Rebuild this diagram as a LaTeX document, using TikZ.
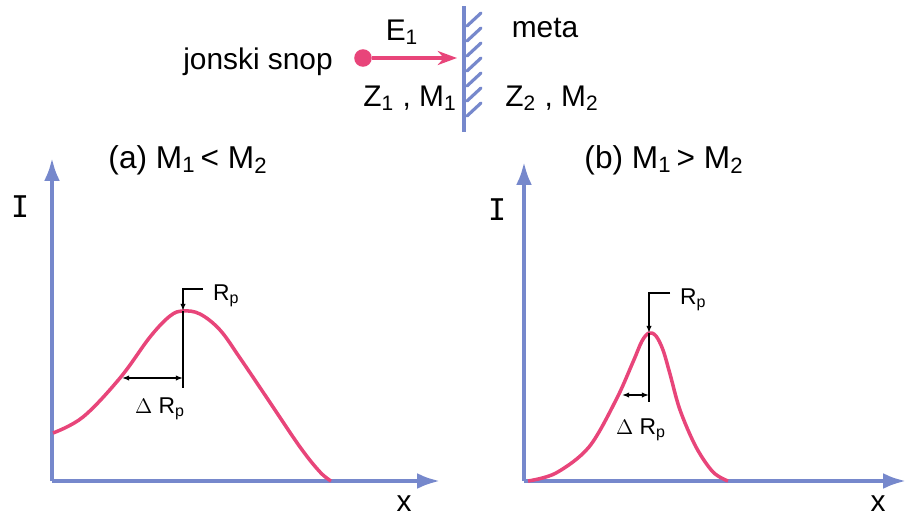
\documentclass[tikz,border=0pt]{standalone}
\usepackage{fontspec}
\setmainfont{Liberation Sans}
\newfontfamily\barfont{DejaVu Sans Mono}
\usepackage{tikz}
\usetikzlibrary{arrows.meta, positioning, calc}
\usepackage{xcolor}
\definecolor{axisBlue}{HTML}{7688CC}
\definecolor{beamPink}{HTML}{E8457A}

\begin{document}
\begin{tikzpicture}[
      x=0.02cm, y=-0.02cm,
      font=\fontsize{17}{19}\selectfont,
      axis/.style={draw=axisBlue, line width=2.2pt, -{Latex[length=13pt, width=9pt]}},
      curve/.style={draw=beamPink, line width=2pt, line join=round},
      mark line/.style={draw=black, line width=0.9pt},
      small lbl/.style={font=\fontsize{13}{15}\selectfont, inner sep=1pt},
      title lbl/.style={font=\fontsize{18}{20}\selectfont}
    ]
    \useasboundingbox (0,0) rectangle (906,518);

    % beam hitting the target
    \coordinate (wtop) at (464,6);
    \coordinate (wbot) at (464,132);
    \draw[axisBlue, line width=2.4pt] (wtop) -- (wbot);
    \foreach \y in {26,41,56,71,86,101,116}
      \draw[axisBlue, line width=1.8pt, line cap=round] (467,\y) -- (481,\y-13);
    \node[circle, fill=beamPink, inner sep=0pt, minimum size=10pt] (src) at (363,58) {};
    \coordinate (hit) at (457,58);
    \draw[beamPink, line width=2.2pt, -{Stealth[length=11pt, width=8pt]}] (src) -- (hit);
    \node (beam) at (258,62) {jonski snop};
    \node (energy) at (402,32) {E\textsubscript{1}};
    \node (z1m1) at (410,98) {Z\textsubscript{1} , M\textsubscript{1}};
    \node (meta) at (545,28) {meta};
    \node (z2m2) at (552,98) {Z\textsubscript{2} , M\textsubscript{2}};

    % (a) M1 < M2
    \coordinate (oa) at (52,481);
    \coordinate (ya) at (52,158);
    \coordinate (xa) at (440,481);
    \draw[axis] (oa) -- (ya);
    \draw[axis] (oa) -- (xa);
    \node[title lbl] (tita) at (188,160) {(a) M\textsubscript{1}\,< M\textsubscript{2}};
    \node (Ia) at (20,207) {\barfont I};
    \node (Xa) at (404,504) {x};
    \draw[curve] plot[smooth, tension=0.6] coordinates {
      (53,433) (83,417) (120,378) (150,337) (170,316) (183,311)
      (200,314) (220,330) (240,358) (267,398) (300,447) (320,472) (331,481)};
    \coordinate (pka) at (183,311);
    \coordinate (tka) at (203,289);
    \coordinate (bta) at (183,388);
    \draw[mark line] (tka) -- (tka -| pka) -- ($(pka)+(0,-12)$);
    \draw[mark line, -{Latex[length=4pt, width=3pt]}] ($(pka)+(0,-12)$) -- (pka);
    \draw[mark line] (pka) -- (bta);
    \node[small lbl, anchor=west] (rpa) at (211,296) {R\textsubscript{p}};
    \coordinate (lfa) at (122,378);
    \draw[mark line, {Latex[length=4pt, width=3pt]}-{Latex[length=4pt, width=3pt]}]
      (lfa) -- (lfa -| pka);
    \node[small lbl] (drpa) at (160,409) {$\Delta$ R\textsubscript{p}};

    % (b) M1 > M2
    \coordinate (ob) at (524,481);
    \coordinate (yb) at (524,162);
    \coordinate (xb) at (906,481);
    \draw[axis] (ob) -- (yb);
    \draw[axis] (ob) -- (xb);
    \node[title lbl] (titb) at (664,160) {(b) M\textsubscript{1}\,> M\textsubscript{2}};
    \node (Ib) at (497,210) {\barfont I};
    \node (Xb) at (878,504) {x};
    \draw[curve] plot[smooth, tension=0.55] coordinates {
      (528,481) (556,473) (589,447) (616,400) (633,362) (642,341) (649,333)
      (656,336) (663,350) (670,374) (680,410) (696,447) (713,472) (728,481)};
    \coordinate (pkb) at (649,333);
    \coordinate (tkb) at (670,293);
    \coordinate (btb) at (649,402);
    \draw[mark line] (tkb) -- (tkb -| pkb) -- ($(pkb)+(0,-12)$);
    \draw[mark line, -{Latex[length=4pt, width=3pt]}] ($(pkb)+(0,-12)$) -- (pkb);
    \draw[mark line] (pkb) -- (btb);
    \node[small lbl, anchor=west] (rpb) at (678,300) {R\textsubscript{p}};
    \coordinate (lfb) at (622,395);
    \draw[mark line, {Latex[length=4pt, width=3pt]}-{Latex[length=4pt, width=3pt]}]
      (lfb) -- (lfb -| pkb);
    \node[small lbl] (drpb) at (641,430) {$\Delta$ R\textsubscript{p}};
\end{tikzpicture}
\end{document}
